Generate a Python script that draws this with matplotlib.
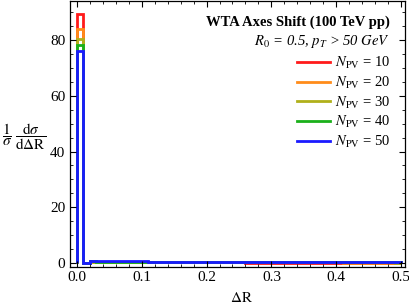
import numpy as np
import matplotlib
matplotlib.use("Agg")
import matplotlib.pyplot as plt
from matplotlib.ticker import MultipleLocator

plt.rcParams['font.family'] = ['Liberation Serif', 'DejaVu Serif']
plt.rcParams['mathtext.fontset'] = 'stix'

# bin edges: width 0.01 from 0 to 0.5
edges = np.round(np.arange(0, 0.501, 0.01), 3)

npv_labels = [10, 20, 30, 40, 50]
colors = ['#ff1a1a', '#ff8c1a', '#b0b01a', '#1ab01a', '#1a1aff']
peaks = [89.5, 84.0, 80.2, 78.1, 76.0]
# tail level (approx. value for bins beyond the first), per series
tail_start = [0.25, 0.35, 0.45, 0.55, 0.62]
tail_end = [0.12, 0.15, 0.18, 0.2, 0.22]
second_bin = [0.1, 0.12, 0.14, 0.16, 0.18]

fig = plt.figure(figsize=(4.09, 3.08), dpi=100)
ax = fig.add_axes([70/409, 41.5/308, 335/409, 265.5/308])

series = []
for i in range(5):
    tail = list(np.linspace(tail_start[i], tail_end[i], 48))
    vals = [peaks[i], second_bin[i]] + tail
    series.append(vals)

for i in range(5):
    v = series[i]
    ax.stairs(v, edges, color=colors[i], lw=2.0,
              label=r'$N_{\mathrm{PV}}$ = %d' % npv_labels[i], baseline=0)

ax.set_xlim(-0.0105, 0.506)
ax.set_ylim(-1.25, 94.0)
ax.xaxis.set_major_locator(MultipleLocator(0.1))
ax.xaxis.set_minor_locator(MultipleLocator(0.02))
ax.yaxis.set_major_locator(MultipleLocator(20))
ax.yaxis.set_minor_locator(MultipleLocator(5))
ax.set_xticks([0, 0.1, 0.2, 0.3, 0.4, 0.5])
ax.set_xticklabels(['0.0', '0.1', '0.2', '0.3', '0.4', '0.5'])
ax.tick_params(which='both', direction='in', top=True, right=True, labelsize=11)
ax.tick_params(which='major', length=4, width=0.8)
ax.tick_params(which='minor', length=2, width=0.6)
for s in ax.spines.values():
    s.set_linewidth(0.9)

fig.text(241/409, 1 - 298/308, r'$\Delta\mathrm{R}$', ha='center', va='center', fontsize=11)
fig.text(24/409, 1 - 137/308,
         r'$\dfrac{1}{\sigma}\ \dfrac{\mathrm{d}\sigma}{\mathrm{d}\Delta\mathrm{R}}$',
         ha='center', va='center', fontsize=11)

fig.text(390/409, 1 - 22/308, 'WTA Axes Shift (100 TeV pp)', ha='right', va='center',
         fontsize=10.5, fontweight='bold')
fig.text(390/409, 1 - 42/308, r'$R_0$ = 0.5, $p_T$ > 50 $GeV$', ha='right', va='center',
         fontsize=10.5, style='italic')

ax.legend(loc='upper right', bbox_to_anchor=(390/409, 1 - 55/308),
          bbox_transform=fig.transFigure, frameon=False, fontsize=10.5,
          handlelength=2.2, handletextpad=0.35, labelspacing=0.25,
          borderpad=0, borderaxespad=0)

fig.savefig('out.png', dpi=100)
